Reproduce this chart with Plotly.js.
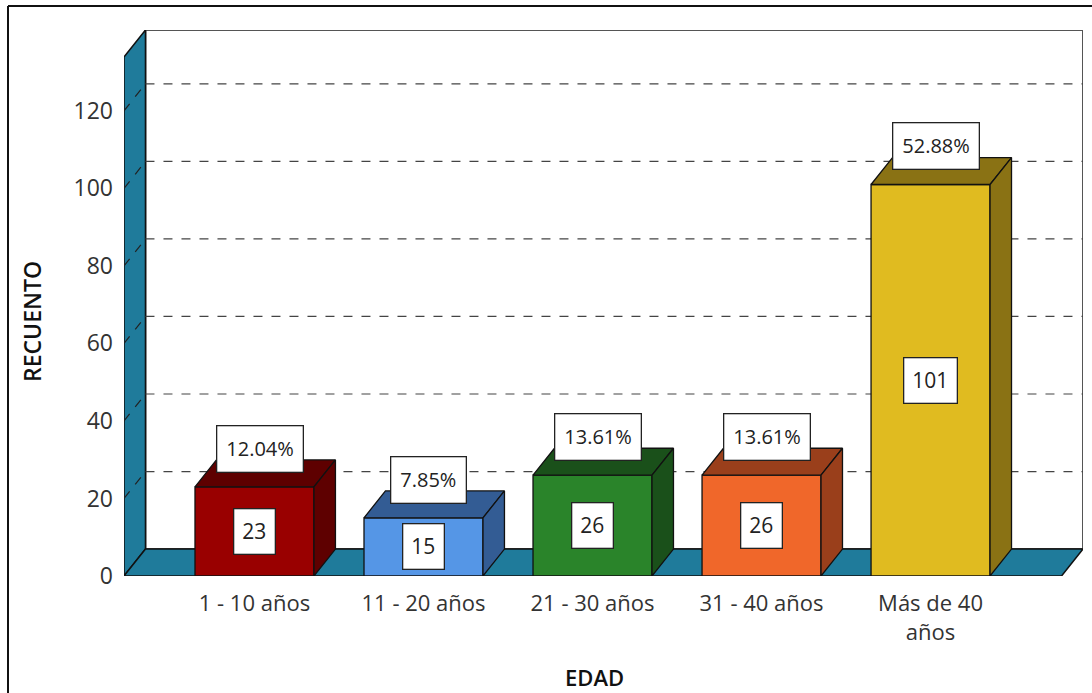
<!DOCTYPE html>
<html>
<head>
<meta charset="utf-8">
<script src="https://cdn.plot.ly/plotly-3.0.1.min.js"></script>
<style>html,body{margin:0;padding:0;background:#fff;}#chart{width:1092px;height:693px;}</style>
</head>
<body>
<div id="chart"></div>
<script>
// ---- data ----
const categories = ["1 - 10 años", "11 - 20 años", "21 - 30 años", "31 - 40 años", "Más de 40<br>años"];
const counts = [23, 15, 26, 26, 101];
const percentLabels = ["12.04%", "7.85%", "13.61%", "13.61%", "52.88%"];
const frontColors = ["#990000", "#5596e6", "#2a842a", "#f0672a", "#e0bb20"];
const darkColors = ["#5e0000", "#335c94", "#1a501a", "#9a3f1b", "#8a7214"];
const yTicks = [0, 20, 40, 60, 80, 100, 120];

// ---- geometry (3D offset in axis units) ----
const DX = 0.127, DY = 6.95, W = 0.704;
const XL = -0.772, XR = 4.775, HTOP = 133.9;
const FONT = "Open Sans, DejaVu Sans, sans-serif";

const idx = categories.map((c, i) => i);
const traces = [];
traces.push({
  type: "bar", x: idx, y: counts, width: W,
  marker: {color: frontColors, line: {color: "#111", width: 1.3}},
  hoverinfo: "skip", showlegend: false
});
counts.forEach((v, i) => {
  const l = i - W / 2, r = i + W / 2;
  traces.push({
    type: "scatter", mode: "lines", fill: "toself", fillcolor: darkColors[i],
    x: [l, r, r + DX, l + DX, l], y: [v, v, v + DY, v + DY, v],
    line: {color: "#111", width: 1.3}, hoverinfo: "skip", showlegend: false
  });
  traces.push({
    type: "scatter", mode: "lines", fill: "toself", fillcolor: darkColors[i],
    x: [r, r + DX, r + DX, r, r], y: [0, DY, v + DY, v, 0],
    line: {color: "#111", width: 1.3}, hoverinfo: "skip", showlegend: false
  });
});

const shapes = [];
// back wall
shapes.push({type: "rect", layer: "below", xref: "x", yref: "y",
  x0: XL + DX, x1: XR + DX, y0: DY, y1: HTOP + DY,
  fillcolor: "#fff", line: {color: "#555", width: 2}});
// left wall
shapes.push({type: "path", layer: "below", xref: "x", yref: "y",
  path: `M ${XL},0 L ${XL},${HTOP} L ${XL + DX},${HTOP + DY} L ${XL + DX},${DY} Z`,
  fillcolor: "#1f7b9b", line: {color: "#111", width: 1.5}});
// floor
shapes.push({type: "path", layer: "below", xref: "x", yref: "y",
  path: `M ${XL},0 L ${XR},0 L ${XR + DX},${DY} L ${XL + DX},${DY} Z`,
  fillcolor: "#1f7b9b", line: {color: "#111", width: 1.5}});
// gridlines
yTicks.filter(v => v > 0).forEach(v => {
  shapes.push({type: "line", layer: "below", xref: "x", yref: "y",
    x0: XL + DX, x1: XR + DX, y0: v + DY, y1: v + DY,
    line: {color: "#444", width: 1.2, dash: "dash"}});
  shapes.push({type: "line", layer: "below", xref: "x", yref: "y",
    x0: XL, x1: XL + DX, y0: v, y1: v + DY,
    line: {color: "#222", width: 1.2, dash: "dash"}});
});
// outer frame (left and top)
shapes.push({type: "line", xref: "paper", yref: "paper", x0: 8/1092, x1: 8/1092, y0: 0, y1: 1 - 6/693,
  line: {color: "#111", width: 2}});
shapes.push({type: "line", xref: "paper", yref: "paper", x0: 8/1092, x1: 1, y0: 1 - 6/693, y1: 1 - 6/693,
  line: {color: "#111", width: 2}});

const annotations = [];
counts.forEach((v, i) => {
  annotations.push({x: i, y: v / 2, xref: "x", yref: "y", text: String(v), showarrow: false,
    bgcolor: "#fff", bordercolor: "#222", borderwidth: 1.3, borderpad: 8,
    font: {family: FONT, size: 21, color: "#222"}});
  annotations.push({x: i + 0.03, y: v + 9.8, xref: "x", yref: "y", text: percentLabels[i], showarrow: false,
    bgcolor: "#fff", bordercolor: "#222", borderwidth: 1.3, borderpad: 9,
    font: {family: FONT, size: 20, color: "#222"}});
});
// axis titles
annotations.push({x: 32/1092, y: 1 - 322/693, xref: "paper", yref: "paper", text: "RECUENTO",
  xanchor: "center", yanchor: "middle",
  textangle: -90, showarrow: false, font: {family: FONT, size: 23, color: "#111", weight: 600}});
annotations.push({x: 594/1092, y: 1 - 677/693, xref: "paper", yref: "paper", text: "EDAD",
  xanchor: "center", yanchor: "middle",
  showarrow: false, font: {family: FONT, size: 22, color: "#111", weight: 600}});

const layout = {
  width: 1092, height: 693,
  margin: {l: 0, r: 0, t: 0, b: 0},
  paper_bgcolor: "#fff", plot_bgcolor: "rgba(0,0,0,0)",
  showlegend: false,
  xaxis: {
    domain: [124/1092, 1083/1092], range: [XL, XR + DX],
    tickvals: idx, ticktext: categories, showgrid: false, zeroline: false, showline: false,
    ticks: "", ticklabelstandoff: 12,
    tickfont: {family: FONT, size: 22, color: "#333"}, fixedrange: true
  },
  yaxis: {
    domain: [1 - 576/693, 1 - 30/693], range: [0, HTOP + DY],
    tickvals: yTicks, showgrid: false, zeroline: false, showline: false,
    ticks: "", ticklabelstandoff: 10,
    tickfont: {family: FONT, size: 23, color: "#333"}, fixedrange: true
  },
  shapes: shapes,
  annotations: annotations
};

Plotly.newPlot("chart", traces, layout, {staticPlot: true, displayModeBar: false});
</script>
</body>
</html>
